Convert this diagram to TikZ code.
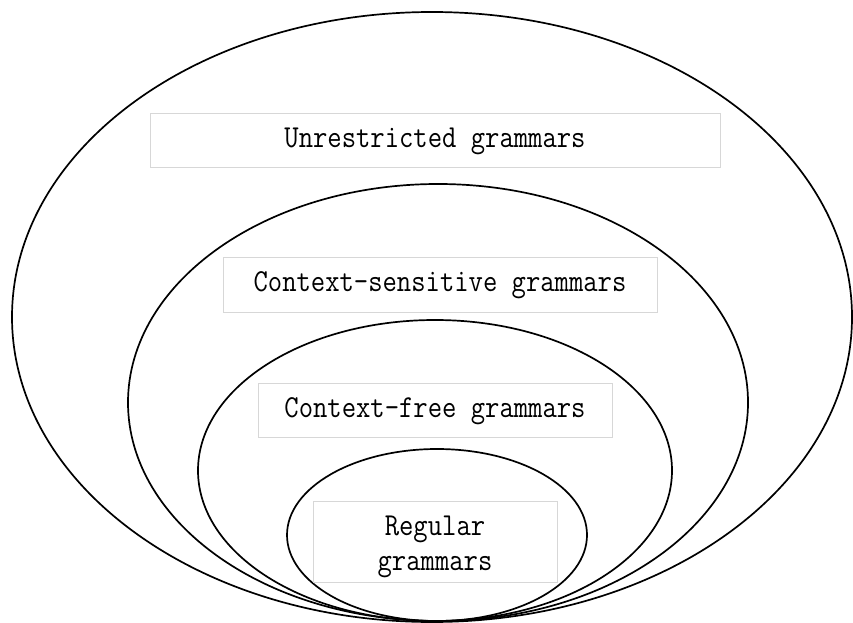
\documentclass[tikz,border=0pt]{standalone}
\usepackage{fontspec}
\definecolor{boxgray}{RGB}{215,215,215}
\newcommand{\lbl}[1]{\scalebox{0.87}[1]{#1}}
\tikzset{
  ring/.style={draw=black, line width=1.7pt},
  lblbox/.style={draw=boxgray, line width=0.9pt, fill=white, inner sep=0pt, anchor=center},
  lbltext/.style={inner sep=0pt, font=\ttfamily\fontsize{32}{35}\selectfont, align=center, anchor=center}
}
\begin{document}
\begin{tikzpicture}[x=1pt,y=-1pt]
\useasboundingbox (0,0) rectangle (853,623);
\fill[white] (0,0) rectangle (853,623);
% ellipses (image coordinates, y downwards)
\draw[ring] (432,317) ellipse [x radius=420, y radius=305];
\draw[ring] (438,402.5) ellipse [x radius=310, y radius=218.5];
\draw[ring] (435,470.5) ellipse [x radius=237, y radius=150.5];
\draw[ring] (437,535) ellipse [x radius=150, y radius=86];
% label boxes
\node[lblbox, minimum width=570, minimum height=54] (unr) at (435,140) {};
\node[lbltext] (unrt) at ([yshift=-1pt]unr.center) {\lbl{Unrestricted grammars}};
\node[lblbox, minimum width=434, minimum height=55] (csg) at (440,284.5) {};
\node[lbltext] (csgt) at ([yshift=-1pt]csg.center) {\lbl{Context-sensitive grammars}};
\node[lblbox, minimum width=354, minimum height=54] (cfg) at (435,410) {};
\node[lbltext] (cfgt) at ([yshift=-1pt]cfg.center) {\lbl{Context-free grammars}};
\node[lblbox, minimum width=244, minimum height=81] (reg) at (435,541.5) {};
\node[lbltext] (regt) at ([yshift=-5pt]reg.center) {\lbl{Regular}\\\lbl{grammars}};
\end{tikzpicture}
\end{document}
